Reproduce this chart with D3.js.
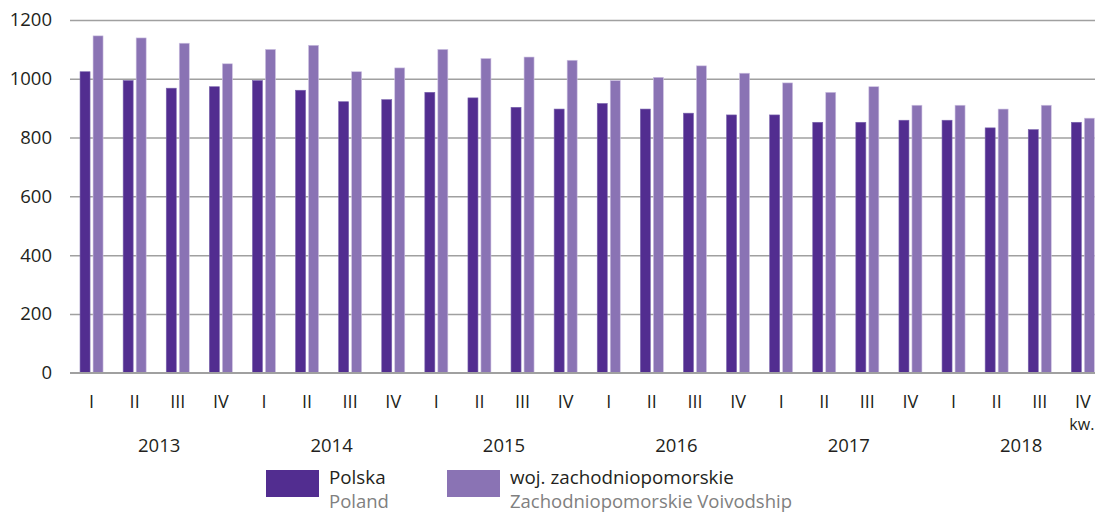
<!DOCTYPE html>
<html>
<head>
<meta charset="utf-8">
<script src="https://cdn.jsdelivr.net/npm/d3@7"></script>
<style>
  html, body { margin: 0; padding: 0; background: #fff; }
  svg { display: block; font-family: "Open Sans", sans-serif; }
</style>
</head>
<body>
<svg id="chart" width="1095" height="514"></svg>
<script>
const years = ["2013", "2014", "2015", "2016", "2017", "2018"];
const quarters = ["I", "II", "III", "IV"];
const polska = [1024, 994, 968, 973, 994, 961, 922, 929, 954, 935, 903, 897, 916, 897, 883, 877, 877, 852, 852, 859, 859, 833, 827, 852];
const zachodniopomorskie = [1146, 1139, 1121, 1051, 1100, 1114, 1024, 1037, 1100, 1069, 1074, 1063, 994, 1005, 1044, 1019, 986, 954, 973, 910, 910, 897, 910, 866];
const yTicks = [0, 200, 400, 600, 800, 1000, 1200];
const seriesKeys = ["pl", "zp"];
const seriesNames = [["Polska", "Poland"], ["woj. zachodniopomorskie", "Zachodniopomorskie Voivodship"]];
const colors = {pl: "#522d90", zp: "#8a73b4"};

(function () {
const categories = [];
years.forEach(yr => quarters.forEach(q => categories.push(yr + "-" + q)));
const rows = categories.map((c, i) => ({key: c, year: c.split("-")[0], q: c.split("-")[1], pl: polska[i], zp: zachodniopomorskie[i]}));

const svg = d3.select("#chart");
const mLeft = 70, mRight = 1104.4, mTop = 20, mBottom = 372.7;

const x0 = d3.scaleBand().domain(categories).range([mLeft, mRight]).paddingInner(1 - 23 / 43.1).paddingOuter((1 - 23 / 43.1) / 2);
const x1 = d3.scaleBand().domain(seriesKeys).range([0, x0.bandwidth()]).paddingInner(3 / 13);
const y = d3.scaleLinear().domain([0, 1200]).range([mBottom, mTop]);

// grid + y axis
const yAxis = svg.append("g")
  .attr("transform", `translate(${mLeft},0)`)
  .call(d3.axisLeft(y).tickValues(yTicks).tickSize(-(1095 - mLeft)).tickPadding(18).tickFormat(d3.format("d")));
yAxis.select(".domain").remove();
yAxis.selectAll(".tick line").attr("stroke", "#a0a0a0").attr("stroke-width", 1.5);
yAxis.selectAll(".tick text").attr("font-size", 18.5).attr("fill", "#231f20").attr("font-family", "Open Sans, sans-serif");

// bars
const groups = svg.append("g").selectAll("g").data(rows).join("g")
  .attr("transform", d => `translate(${x0(d.key)},0)`);
groups.selectAll("rect").data(d => seriesKeys.map(k => ({k, v: d[k]}))).join("rect")
  .attr("x", d => x1(d.k))
  .attr("width", x1.bandwidth())
  .attr("y", d => y(d.v))
  .attr("height", d => y(0) - y(d.v))
  .attr("fill", d => colors[d.k])
  .attr("stroke", d => d.k === "zp" ? "#cdc2e2" : "#7a64ad")
  .attr("stroke-width", 0.6);

// baseline on top
svg.append("line").attr("x1", mLeft).attr("x2", 1095).attr("y1", y(0)).attr("y2", y(0))
  .attr("stroke", "#a0a0a0").attr("stroke-width", 1.5);

// quarter labels
svg.append("g").selectAll("text").data(rows).join("text")
  .attr("x", d => x0(d.key) + x0.bandwidth() / 2)
  .attr("y", 407.5)
  .attr("text-anchor", "middle")
  .attr("font-size", 18)
  .attr("fill", "#231f20")
  .text(d => d.q);

// "kw." unit under the last quarter label
const lastKey = categories[categories.length - 1];
svg.append("text")
  .attr("x", x0(lastKey) + x0.bandwidth() / 2 - 1)
  .attr("y", 430)
  .attr("text-anchor", "middle")
  .attr("font-size", 16)
  .attr("fill", "#231f20")
  .text("kw.");

// year labels
svg.append("g").selectAll("text").data(years).join("text")
  .attr("x", yr => {
    const ks = categories.filter(c => c.startsWith(yr));
    return (x0(ks[0]) + x0(ks[ks.length - 1]) + x0.bandwidth()) / 2 + 3;
  })
  .attr("y", 452)
  .attr("text-anchor", "middle")
  .attr("font-size", 18.5)
  .attr("fill", "#231f20")
  .text(d => d);

// legend
const legendX = [266, 447];
const legend = svg.append("g");
seriesKeys.forEach((k, i) => {
  const g = legend.append("g").attr("transform", `translate(${legendX[i]},0)`);
  g.append("rect").attr("x", 0).attr("y", 470).attr("width", 53).attr("height", 27).attr("fill", colors[k]);
  g.append("text").attr("x", 63).attr("y", 484).attr("font-size", 18.8).attr("fill", "#231f20").text(seriesNames[i][0]);
  g.append("text").attr("x", 63).attr("y", 508).attr("font-size", 18.5).attr("fill", "#808080").text(seriesNames[i][1]);
});
})();
</script>
</body>
</html>
